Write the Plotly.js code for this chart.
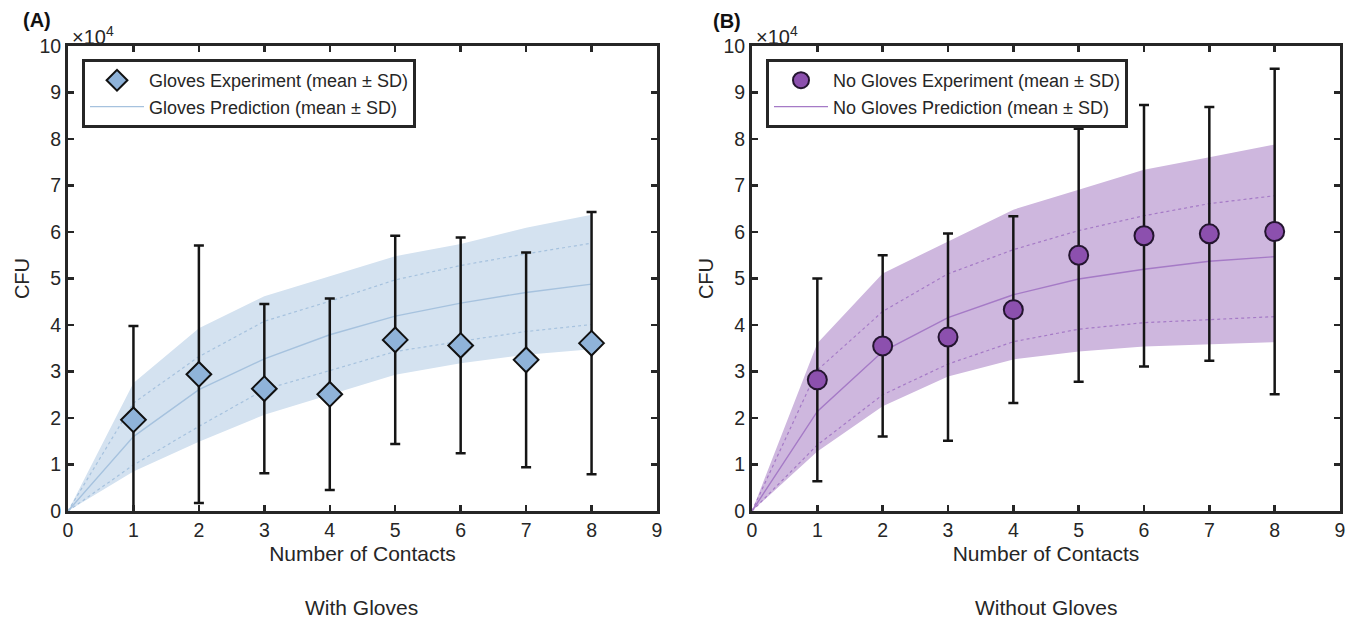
<!DOCTYPE html>
<html><head><meta charset="utf-8">
<script src="https://cdn.plot.ly/plotly-3.0.1.min.js"></script>
<style>html,body{margin:0;padding:0;background:#fff}#chart{width:1357px;height:619px}</style>
</head><body><div id="chart"></div>
<script>
// ---- data (CFU) ----
const contacts = [1, 2, 3, 4, 5, 6, 7, 8];
const predContacts = [0, 1, 2, 3, 4, 5, 6, 7, 8];

const glovesExpMean = [19600, 29400, 26300, 25100, 36800, 35600, 32500, 36100];
const glovesExpSD   = [20200, 27700, 18200, 20600, 22400, 23200, 23100, 28200];

const glovesPredMean  = [0, 16000, 26100, 32700, 37900, 41900, 44700, 47000, 48800];
const glovesPredUpper = [0, 23200, 33200, 40800, 45100, 49700, 52800, 55300, 57600];
const glovesPredLower = [0, 9900, 18200, 26100, 30200, 34300, 36500, 38600, 40100];
const glovesBandUpper = [0, 27500, 39300, 46200, 50500, 54800, 57400, 60900, 63700];
const glovesBandLower = [0, 8500, 14900, 20700, 25000, 29300, 31800, 33600, 34800];

const noGlovesExpMean = [28200, 35500, 37400, 43300, 55000, 59200, 59600, 60100];
const noGlovesExpSD   = [21800, 19500, 22300, 20100, 27200, 28100, 27300, 35000];

const noGlovesPredMean  = [0, 21400, 34300, 41600, 46500, 49900, 52000, 53700, 54700];
const noGlovesPredUpper = [0, 30300, 42900, 51000, 56200, 60300, 63500, 66100, 67800];
const noGlovesPredLower = [0, 14200, 25000, 31600, 36400, 39100, 40500, 41200, 41800];
const noGlovesBandUpper = [0, 36100, 51100, 58000, 64800, 69100, 73400, 76100, 78800];
const noGlovesBandLower = [0, 12800, 22500, 28900, 32600, 34300, 35400, 35900, 36300];

const xTicks = [0, 1, 2, 3, 4, 5, 6, 7, 8, 9];
const yTickVals = [0, 10000, 20000, 30000, 40000, 50000, 60000, 70000, 80000, 90000, 100000];
const yTickText = ['0', '1', '2', '3', '4', '5', '6', '7', '8', '9', '10'];

const legendNames = {
  gExp: 'Gloves Experiment (mean \u00B1 SD)',
  gPred: 'Gloves Prediction (mean \u00B1 SD)',
  nExp: 'No Gloves Experiment (mean \u00B1 SD)',
  nPred: 'No Gloves Prediction (mean \u00B1 SD)'
};

// ---- layout helpers ----
const L = 68, R = 1340, T = 46, B = 511;
function px(x) { return (x - L) / (R - L); }
function py(y) { return (B - y) / (B - T); }

const INK = '#262626';
const FONT = 'Liberation Sans, Arial, sans-serif';

function panelTraces(xa, ya, leg, c, d) {
  const common = {xaxis: xa, yaxis: ya, hoverinfo: 'skip'};
  return [
    Object.assign({x: predContacts, y: d.bandU, mode: 'lines', line: {width: 0, color: c.fill}, showlegend: false}, common),
    Object.assign({x: predContacts, y: d.bandL, mode: 'lines', line: {width: 0, color: c.fill}, fill: 'tonexty', fillcolor: c.fill, showlegend: false}, common),
    Object.assign({x: predContacts, y: d.predU, mode: 'lines', line: {width: 1.2, color: c.line, dash: '3px,3px'}, showlegend: false}, common),
    Object.assign({x: predContacts, y: d.predL, mode: 'lines', line: {width: 1.2, color: c.line, dash: '3px,3px'}, showlegend: false}, common),
    Object.assign({x: predContacts, y: d.predM, mode: 'lines', line: {width: 1.4, color: c.line}, name: d.predName, legend: leg, legendrank: 2}, common),
    Object.assign({x: contacts, y: d.expM, mode: 'markers', name: d.expName, legend: leg, legendrank: 1,
      marker: {symbol: c.symbol, size: c.size, color: c.marker, line: {color: c.edge, width: 2}},
      error_y: {type: 'data', array: d.expSD, visible: true, color: '#151515', thickness: 2.5, width: 5}}, common)
  ];
}

const traces = [].concat(
  panelTraces('x', 'y', 'legend',
    {fill: 'rgba(212,226,240,1)', line: '#a6c2de', marker: '#8fb3d9', edge: '#111111', symbol: 'diamond', size: 19},
    {bandU: glovesBandUpper, bandL: glovesBandLower, predU: glovesPredUpper, predL: glovesPredLower, predM: glovesPredMean,
     expM: glovesExpMean, expSD: glovesExpSD, expName: legendNames.gExp, predName: legendNames.gPred}),
  panelTraces('x2', 'y2', 'legend2',
    {fill: 'rgba(206,183,222,1)', line: '#a57ac6', marker: '#8c50ae', edge: '#241530', symbol: 'circle', size: 19},
    {bandU: noGlovesBandUpper, bandL: noGlovesBandLower, predU: noGlovesPredUpper, predL: noGlovesPredLower, predM: noGlovesPredMean,
     expM: noGlovesExpMean, expSD: noGlovesExpSD, expName: legendNames.nExp, predName: legendNames.nPred})
);

function xAxis(domain) {
  return {
    domain: domain, range: [0, 9], tickmode: 'array', tickvals: xTicks, ticktext: xTicks.map(String),
    ticks: 'inside', ticklen: 6, tickwidth: 2.5, tickcolor: INK,
    showline: true, linewidth: 3, linecolor: INK, mirror: 'ticks',
    showgrid: false, zeroline: false, fixedrange: true,
    tickfont: {family: FONT, size: 19.5, color: INK},
    title: {text: 'Number of Contacts', font: {family: FONT, size: 21, color: INK}, standoff: 6}
  };
}
function yAxis(anchor) {
  return {
    domain: [0, 1], range: [0, 100000], anchor: anchor, tickmode: 'array', tickvals: yTickVals, ticktext: yTickText,
    ticks: 'inside', ticklen: 6, tickwidth: 2.5, tickcolor: INK,
    showline: true, linewidth: 3, linecolor: INK, mirror: 'ticks',
    showgrid: false, zeroline: false, fixedrange: true,
    tickfont: {family: FONT, size: 19.5, color: INK},
    title: {text: 'CFU', font: {family: FONT, size: 20, color: INK}, standoff: 5}
  };
}

function legendBox(xpix, ypix) {
  return {
    x: px(xpix), y: py(ypix), xanchor: 'left', yanchor: 'top', xref: 'paper', yref: 'paper',
    bgcolor: '#ffffff', bordercolor: INK, borderwidth: 3, itemwidth: 54,
    font: {family: FONT, size: 18, color: INK}, traceorder: 'normal'
  };
}

const ann = (text, xpix, ypix, opts) => Object.assign({
  text: text, x: px(xpix), y: py(ypix), xref: 'paper', yref: 'paper', showarrow: false,
  xanchor: 'center', yanchor: 'middle',
  font: {family: FONT, size: 21, color: INK}
}, opts || {});

const layout = {
  width: 1357, height: 619,
  margin: {l: L, r: 1357 - R, t: T, b: 619 - B, pad: 0},
  paper_bgcolor: '#ffffff', plot_bgcolor: '#ffffff',
  font: {family: FONT, color: INK},
  showlegend: true,
  xaxis: xAxis([0, px(657)]),
  yaxis: yAxis('x'),
  xaxis2: Object.assign(xAxis([px(752), 1]), {anchor: 'y2'}),
  yaxis2: yAxis('x2'),
  legend: legendBox(82, 59),
  legend2: legendBox(766, 59),
  annotations: [
    ann('<b>(A)</b>', 37, 20, {font: {family: FONT, size: 20, color: '#111'}}),
    ann('<b>(B)</b>', 727, 21, {font: {family: FONT, size: 20, color: '#111'}}),
    ann('\u00D710<sup>4</sup>', 70, 50, {xanchor: 'left', yanchor: 'bottom', font: {family: FONT, size: 20, color: INK}}),
    ann('\u00D710<sup>4</sup>', 754, 50, {xanchor: 'left', yanchor: 'bottom', font: {family: FONT, size: 20, color: INK}}),
    ann('With Gloves', 361, 607),
    ann('Without Gloves', 1046, 607)
  ]
};

Plotly.newPlot('chart', traces, layout, {displayModeBar: false, staticPlot: true});
</script>
</body></html>
